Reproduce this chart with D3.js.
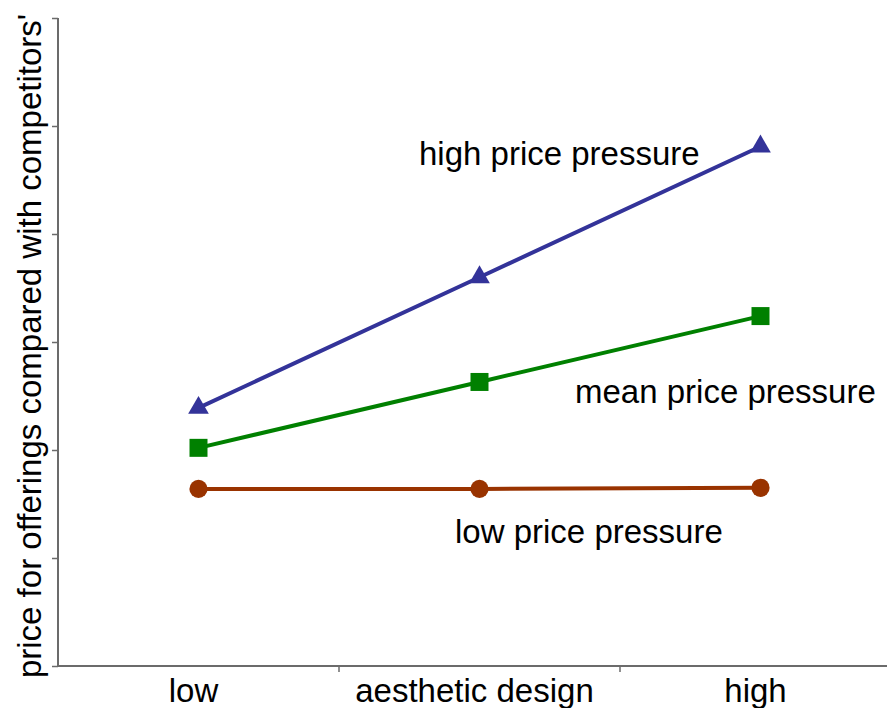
<!DOCTYPE html>
<html>
<head>
<meta charset="utf-8">
<script src="https://cdn.jsdelivr.net/npm/d3@7/dist/d3.min.js"></script>
<style>
  html, body { margin: 0; padding: 0; background: #fff; }
  svg { display: block; font-family: "Liberation Sans", Arial, sans-serif; }
</style>
</head>
<body>
<svg id="chart" width="887" height="708"></svg>
<script>
// ---- data ----
const categories = ["low", "aesthetic design", "high"];
const yTicks = [0, 1, 2, 3, 4, 5, 6];
const highPressure = [2.39, 3.60, 4.81];
const meanPressure = [2.02, 2.63, 3.24];
const lowPressure  = [1.64, 1.64, 1.65];
const seriesNames = ["high price pressure", "mean price pressure", "low price pressure"];
const yLabel = "price for offerings compared with competitors'";

const series = [
  { name: seriesNames[0], values: highPressure, color: "#333399", symbol: d3.symbolTriangle, size: 185, lx: 419, ly: 165 },
  { name: seriesNames[1], values: meanPressure, color: "#008000", symbol: d3.symbolSquare,   size: 324, lx: 575, ly: 403 },
  { name: seriesNames[2], values: lowPressure,  color: "#993300", symbol: d3.symbolCircle,   size: 260, lx: 455, ly: 543 }
];

const svg = d3.select("#chart");
const x0 = 58, yBottom = 666, yTop = 18;

const x = d3.scaleBand().domain(categories).range([x0, x0 + 281 * 3]).padding(0);
const y = d3.scaleLinear().domain([0, 6]).range([yBottom, yTop]);
const axisColor = "#6b6b6b";

// y axis
const yAxis = svg.append("g")
  .attr("transform", `translate(${x0},0)`)
  .call(d3.axisLeft(y).tickValues(yTicks).tickSize(6).tickFormat(""));
yAxis.select(".domain").attr("stroke", axisColor).attr("stroke-width", 2)
  .attr("d", `M0,${yTop}V${yBottom}`);
yAxis.selectAll(".tick line").attr("stroke", axisColor).attr("stroke-width", 1.5);

// x axis
const xg = svg.append("g");
xg.append("line")
  .attr("x1", x0).attr("x2", 887)
  .attr("y1", yBottom).attr("y2", yBottom)
  .attr("stroke", axisColor).attr("stroke-width", 2);
xg.selectAll("line.tick")
  .data(categories.slice(0, categories.length - 1))
  .join("line")
  .attr("class", "tick")
  .attr("x1", d => x(d) + x.bandwidth()).attr("x2", d => x(d) + x.bandwidth())
  .attr("y1", yBottom).attr("y2", yBottom + 6)
  .attr("stroke", axisColor).attr("stroke-width", 1.5);
xg.selectAll("text.cat")
  .data(categories)
  .join("text")
  .attr("class", "cat")
  .attr("x", d => x(d) + x.bandwidth() / 2 - 5)
  .attr("y", 702)
  .attr("text-anchor", "middle")
  .attr("font-size", 33)
  .attr("fill", "#000")
  .text(d => d);

// y label
svg.append("text")
  .attr("transform", "translate(41,346) rotate(-90)")
  .attr("text-anchor", "middle")
  .attr("font-size", 33)
  .attr("fill", "#000")
  .text(yLabel);

// lines and markers
const line = d3.line()
  .x((d, i) => x(categories[i]) + x.bandwidth() / 2)
  .y(d => y(d));

series.forEach(s => {
  svg.append("path")
    .attr("d", line(s.values))
    .attr("fill", "none")
    .attr("stroke", s.color)
    .attr("stroke-width", 4);
  svg.selectAll(null)
    .data(s.values)
    .join("path")
    .attr("transform", (d, i) => `translate(${x(categories[i]) + x.bandwidth() / 2},${y(d)})`)
    .attr("d", d3.symbol().type(s.symbol).size(s.size))
    .attr("fill", s.color);
  svg.append("text")
    .attr("x", s.lx).attr("y", s.ly)
    .attr("font-size", 33)
    .attr("fill", "#000")
    .text(s.name);
});
</script>
</body>
</html>
